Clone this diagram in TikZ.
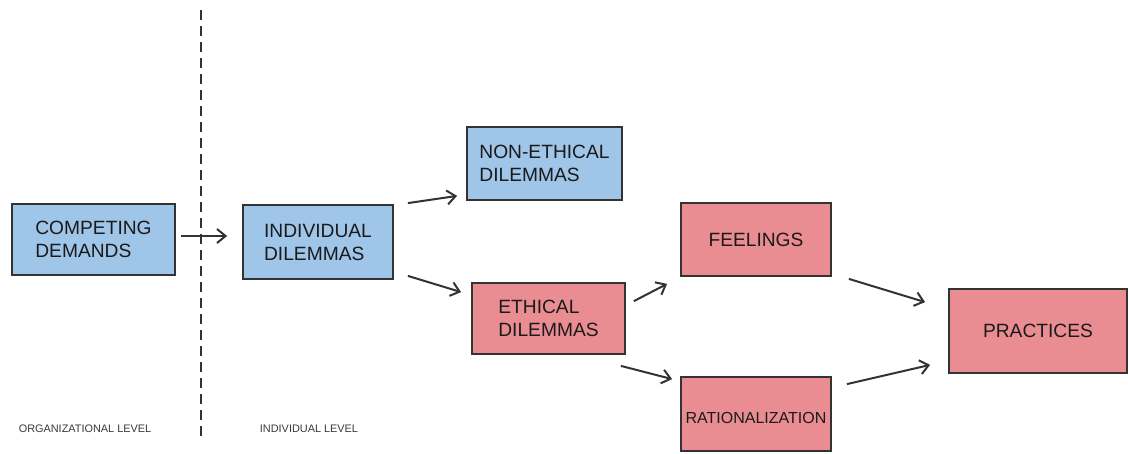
\documentclass[tikz,border=0pt]{standalone}
\usepackage{fontspec}
\setmainfont{Liberation Sans}
\usepackage{tikz}
\usetikzlibrary{arrows.meta, positioning, calc}
\definecolor{DemandBlue}{HTML}{9FC5E8}
\definecolor{EthicRed}{HTML}{EA8D93}
\definecolor{EdgeGray}{HTML}{333333}
\definecolor{TextBlack}{HTML}{1A1A1A}
\definecolor{LabelGray}{HTML}{3A3A3A}
\tikzset{
    box/.style={
        draw=EdgeGray,
        line width=1.8pt,
        fill=#1,
        text=TextBlack,
        font=\fontsize{19.2}{23}\selectfont,
        align=left,
        inner sep=0pt
    },
    box/.default=DemandBlue,
    arrow/.style={
        -{Straight Barb[length=8.5pt,width=14pt,line width=2pt]},
        line width=2pt,
        EdgeGray
    },
    levellabel/.style={
        font=\fontsize{10.9}{13}\selectfont,
        text=LabelGray,
        inner sep=0pt
    },
    divider/.style={
        line width=2.4pt,
        EdgeGray,
        dash pattern=on 10pt off 6pt
    }
}
\begin{document}
\begin{tikzpicture}[x=1pt, y=-1pt]
    \useasboundingbox (0,0) rectangle (1128,453);

    % organizational / individual split
    \coordinate (divtop) at (201,10);
    \coordinate (divbot) at (201,437);
    \draw[divider] (divtop) -- (divbot);
    \node[levellabel] (orglevel) at (85,429) {ORGANIZATIONAL LEVEL};
    \node[levellabel] (indlevel) at (309,429) {INDIVIDUAL LEVEL};

    \node[box, minimum width=163pt, minimum height=71pt] (comp) at (93.5,239.5) {COMPETING\\DEMANDS};
    \node[box, minimum width=150pt, minimum height=74pt] (indiv) at (318,242) {INDIVIDUAL\\DILEMMAS};
    \node[box, minimum width=155pt, minimum height=73pt] (noneth) at (544.5,163.5) {NON-ETHICAL\\DILEMMAS};
    \node[box=EthicRed, minimum width=153pt, minimum height=71pt] (eth) at (548.5,318.5) {ETHICAL\\DILEMMAS};
    \node[box=EthicRed, minimum width=150pt, minimum height=73pt] (feel) at (756,239.5) {FEELINGS};
    \node[box=EthicRed, minimum width=150pt, minimum height=74pt, font=\fontsize{16}{19}\selectfont,
          text height=19pt, text depth=0pt] (rat) at (756,414) {RATIONALIZATION};
    \node[box=EthicRed, minimum width=178pt, minimum height=84pt] (prac) at (1038,331) {PRACTICES};

    \draw[arrow] ([shift={(5,-3.5)}]comp.east) -- ([shift={(-15,-6)}]indiv.west);
    \draw[arrow] ([shift={(14,-1)}]indiv.north east) -- ([shift={(-9,-5)}]noneth.south west);
    \draw[arrow] ([shift={(14,-4)}]indiv.south east) -- ([shift={(-10,10)}]eth.north west);
    \draw[arrow] ([shift={(8,19)}]eth.north east) -- ([shift={(-13,7)}]feel.south west);
    \draw[arrow] ([shift={(-5,11)}]eth.south east) -- ([shift={(-8,3)}]rat.north west);
    \draw[arrow] ([shift={(17,2)}]feel.south east) -- ([shift={(-23,14)}]prac.north west);
    \draw[arrow] ([shift={(15,8)}]rat.north east) -- ([shift={(-18,-9)}]prac.south west);
\end{tikzpicture}
\end{document}
